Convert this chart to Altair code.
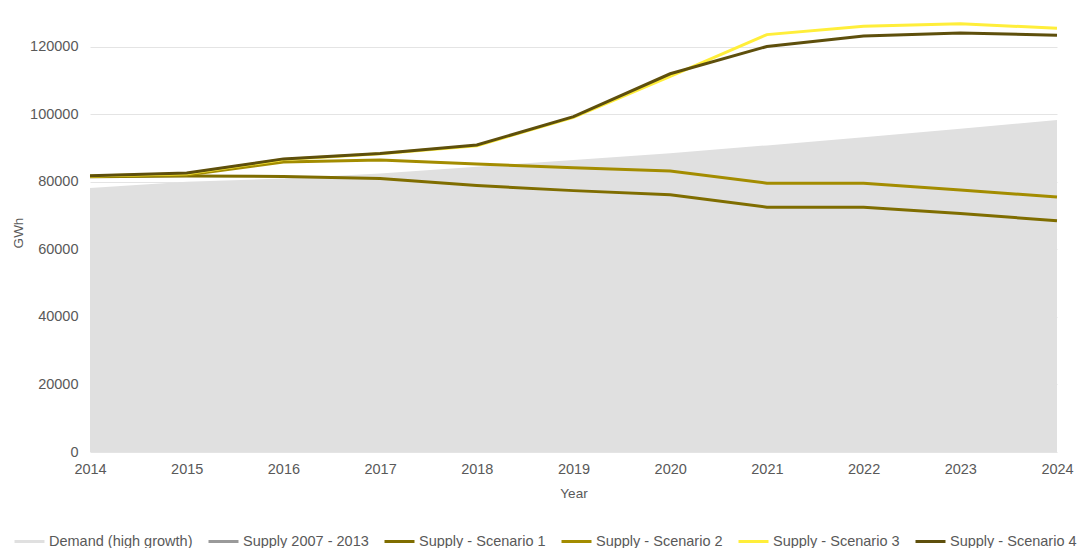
import altair as alt
import pandas as pd

years = [2014, 2015, 2016, 2017, 2018, 2019, 2020, 2021, 2022, 2023, 2024]
demand_high = [78200, 80000, 81000, 82500, 84500, 86500, 88500, 90800, 93200, 95700, 98300]
supply_s1 = [81500, 81700, 81600, 81000, 78900, 77400, 76200, 72500, 72500, 70600, 68500]
supply_s2 = [81600, 82000, 85900, 86500, 85300, 84200, 83200, 79600, 79600, 77600, 75500]
supply_s3 = [81700, 82400, 86600, 88300, 90700, 99100, 111200, 123600, 126100, 126800, 125500]
supply_s4 = [81800, 82600, 86800, 88400, 90900, 99300, 112000, 120100, 123200, 124100, 123400]

series_names = ["Demand (high growth)", "Supply 2007 - 2013", "Supply - Scenario 1",
                "Supply - Scenario 2", "Supply - Scenario 3", "Supply - Scenario 4"]
series_colors = ["#e0e0e0", "#9a9a9a", "#7f6d00", "#a38c00", "#ffee3a", "#5e4f0c"]

demand_df = pd.DataFrame({"Year": years, "GWh": demand_high, "Series": series_names[0]})
rows = []
for name, vals in zip(series_names[2:], [supply_s1, supply_s2, supply_s3, supply_s4]):
    for y, v in zip(years, vals):
        rows.append({"Year": y, "GWh": v, "Series": name})
lines_df = pd.DataFrame(rows)

color_scale = alt.Scale(domain=series_names, range=series_colors)

x_enc = alt.X("Year:Q", title="Year",
              scale=alt.Scale(domain=[2014, 2024], nice=False, zero=False),
              axis=alt.Axis(values=years, format="d", grid=False, tickSize=0,
                            labelFlush=False, labelPadding=10, titlePadding=11,
                            domain=False))
y_enc = alt.Y("GWh:Q", title="GWh",
              scale=alt.Scale(domain=[0, 130000], nice=False),
              axis=alt.Axis(values=[0, 20000, 40000, 60000, 80000, 100000, 120000],
                            format="d", tickSize=0, labelPadding=12, domain=False,
                            gridColor="#e4e4e4", titlePadding=4))

area = alt.Chart(demand_df).mark_area(opacity=1).encode(
    x=x_enc, y=y_enc,
    color=alt.Color("Series:N", scale=color_scale,
                    legend=alt.Legend(title=None, orient="none", direction="horizontal",
                                      legendX=-77, legendY=512,
                                      symbolType="stroke", symbolStrokeWidth=3,
                                      symbolSize=900, labelFontSize=14.5,
                                      labelColor="#595959", columnPadding=9,
                                      labelOffset=3))
)

lines = alt.Chart(lines_df).mark_line(strokeWidth=3).encode(
    x=x_enc, y=y_enc,
    color=alt.Color("Series:N", scale=color_scale),
    detail="Series:N"
)

chart = alt.layer(area, lines).properties(
    width=967, height=439,
    padding={"left": 3, "top": 5, "right": 0, "bottom": 0}
).configure_axis(
    labelFont="Liberation Sans", titleFont="Liberation Sans", labelFontSize=14.5,
    titleFontSize=13.5, labelColor="#595959", titleColor="#595959", titleFontWeight="normal"
).configure_legend(labelFont="Liberation Sans").configure_view(stroke=None)

chart.save("out.html", embed_options={"renderer": "svg", "actions": False})
